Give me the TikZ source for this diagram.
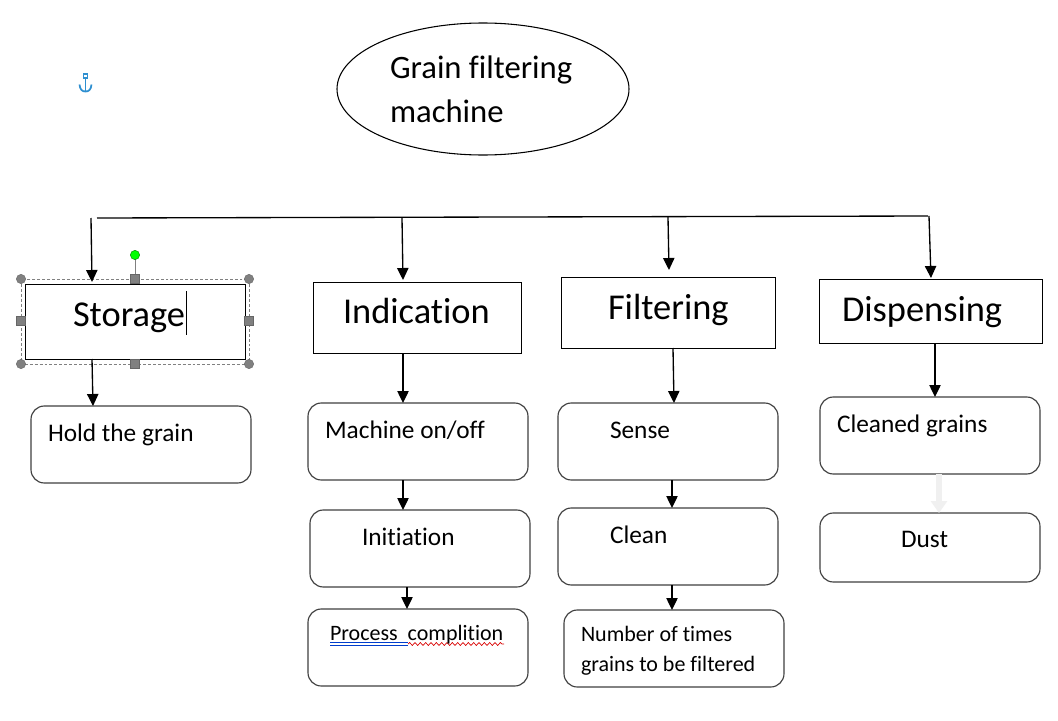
\documentclass[tikz,border=0pt]{standalone}
\usepackage{fontspec}
\setmainfont[Ligatures=NoCommon]{Carlito}
\usetikzlibrary{arrows.meta,decorations.pathmorphing,shapes.geometric}
\newcommand{\mybox}[6]{%
  \pgfmathsetmacro{\bw}{(#5-#3)*0.75}%
  \pgfmathsetmacro{\bh}{(#6-#4)*0.75}%
  \pgfmathsetmacro{\bx}{(#3+#5)/2}%
  \pgfmathsetmacro{\by}{(#4+#6)/2}%
  \node[#1,minimum width=\bw pt,minimum height=\bh pt] (#2) at (\bx,\by) {};%
}
\definecolor{handlegray}{HTML}{808080}
\definecolor{anchorblue}{HTML}{2E8FD0}
\tikzset{
  x=0.75pt,y=-0.75pt,
  squarebox/.style={draw=black,line width=0.75pt,inner sep=0pt,outer sep=0pt,fill=white},
  roundbox/.style={draw=black!75,line width=0.85pt,rounded corners=10pt,inner sep=0pt,outer sep=0pt,fill=white},
  oval/.style={draw=black,line width=0.8pt,ellipse,inner sep=0pt,outer sep=0pt},
  arr/.style={draw=black,line width=1pt,-{Triangle[length=9pt,width=8.5pt]}},
  fadedarr/.style={draw=black!6,line width=3.8pt,-{Triangle[length=9pt,width=12pt]}},
  bus/.style={draw=black,line width=1pt},
  txt/.style={anchor=base west,inner sep=0pt,outer sep=0pt,text=black},
  title/.style={txt,font=\fontsize{24.5pt}{26pt}\selectfont},
  head/.style={txt,font=\fontsize{27.3pt}{29pt}\selectfont},
  body/.style={txt,font=\fontsize{19pt}{21pt}\selectfont},
  small/.style={txt,font=\fontsize{16.5pt}{18pt}\selectfont},
  selframe/.style={draw=handlegray,line width=0.6pt,dashed,dash pattern=on 2.2pt off 1.5pt},
  roundhandle/.style={circle,fill=handlegray,draw=black!60,line width=0.3pt,minimum size=7pt,inner sep=0pt},
  sqhandle/.style={rectangle,fill=handlegray,draw=black!60,line width=0.3pt,minimum size=6.5pt,inner sep=0pt},
  rothandle/.style={circle,fill=green,draw=black!50!green,line width=0.3pt,minimum size=7pt,inner sep=0pt},
}
\begin{document}
\begin{tikzpicture}
\useasboundingbox[fill=white] (0,0) rectangle (1058,721);

% title ellipse
\node[oval,minimum width=219pt,minimum height=99pt] (machine) at (483,89) {};
\node[title] (titleA) at (390,78.5) {Grain filtering};
\node[title] (titleB) at (390,122) {machine};

% anchor icon
\draw[anchorblue,line width=1.1pt] (83.5,74) rectangle (87.5,78);
\draw[anchorblue,line width=1.1pt] (85.5,78) -- (85.5,91.5);
\draw[anchorblue,line width=1.3pt] (79.5,84.5) .. controls (80,89.5) and (82,91.5) .. (85.5,91.5) .. controls (89,91.5) and (91,89.5) .. (91.5,84.5);

% selection frame of Storage
\draw[selframe] (21,279) rectangle (249,364);
\draw[handlegray,line width=0.7pt] (135,256) -- (135,279);

% heading boxes
\mybox{squarebox}{storage}{25}{284}{245}{359}
\mybox{squarebox}{indication}{313}{282}{521}{353}
\mybox{squarebox}{filtering}{561}{277}{775}{348}
\mybox{squarebox}{dispensing}{819}{279}{1042}{343}

% handles
\node[roundhandle] (hA) at (21,279) {};
\node[roundhandle] (hB) at (249,279) {};
\node[roundhandle] (hC) at (21,364) {};
\node[roundhandle] (hD) at (249,364) {};
\node[sqhandle] (hE) at (135,279) {};
\node[sqhandle] (hF) at (135,364) {};
\node[sqhandle] (hG) at (21,321) {};
\node[sqhandle] (hH) at (249,321) {};
\node[rothandle] (hI) at (135,255) {};

% sub boxes
\mybox{roundbox}{hold}{31}{406}{251}{483}
\mybox{roundbox}{onoff}{308}{403}{528}{480}
\mybox{roundbox}{initiation}{310}{510}{530}{587}
\mybox{roundbox}{process}{308}{609}{528}{686}
\mybox{roundbox}{sense}{558}{403}{778}{480}
\mybox{roundbox}{clean}{558}{508}{778}{585}
\mybox{roundbox}{times}{564}{610}{784}{687}
\mybox{roundbox}{cleaned}{820}{397}{1040}{474}
\mybox{roundbox}{dust}{820}{513}{1040}{582}

% texts
\node[head] (tStorage) at (73,326) {Storage};
\draw[black,line width=0.8pt] (186.5,291) -- (186.5,335);
\node[head] (tIndication) at (343,323) {Indication};
\node[head] (tFiltering) at (608,319) {Filtering};
\node[head] (tDispensing) at (842,321) {Dispensing};
\node[body] (tHold) at (48,441) {Hold the grain};
\node[body] (tOnoff) at (325,438) {Machine on/off};
\node[body] (tInit) at (362,545) {Initiation};
\draw[blue!70!cyan!80!black,line width=0.5pt] (330,642.8) -- (408,642.8) (330,645.3) -- (408,645.3);
\draw[red!85!black,line width=0.5pt,decorate,decoration={snake,amplitude=1.1pt,segment length=4pt}] (408,644) -- (504,644);
\node[small] (tProc) at (330,640.5) {Process\ \ complition};
\node[body] (tSense) at (610,438) {Sense};
\node[body] (tClean) at (610,543) {Clean};
\node[small] (tTimesA) at (581,641) {Number of times};
\node[small] (tTimesB) at (581,671) {grains to be filtered};
\node[body] (tCleaned) at (837,432) {Cleaned grains};
\node[body] (tDust) at (901,547) {Dust};

% bus and drops
\coordinate (busL) at (97,218);
\coordinate (busR) at (928,216);
\coordinate (dropA) at (91,218);
\coordinate (dropB) at (402,218);
\coordinate (dropC) at (668,217);
\coordinate (dropD) at (929,216);
\draw[bus] (busL) -- (busR);
\draw[arr] (dropA) -- (92,282);
\draw[arr] (dropB) -- (403,280);
\draw[arr] (dropC) -- (669,270);
\draw[arr] (dropD) -- (931,278);

% vertical connectors
\draw[arr] (92,0 |- storage.south) -- (93,0 |- hold.north);
\draw[arr] (403,0 |- indication.south) -- (403,0 |- onoff.north);
\draw[arr] (673,0 |- filtering.south) -- (674,0 |- sense.north);
\draw[arr] (935,0 |- dispensing.south) -- (935,0 |- cleaned.north);
\draw[arr] (403,0 |- onoff.south) -- (403,0 |- initiation.north);
\draw[arr] (407,0 |- initiation.south) -- (407,0 |- process.north);
\draw[arr] (672,0 |- sense.south) -- (672,0 |- clean.north);
\draw[arr] (672,0 |- clean.south) -- (672,0 |- times.north);
\draw[fadedarr] (939,0 |- cleaned.south) -- (939,0 |- dust.north);
\end{tikzpicture}
\end{document}
